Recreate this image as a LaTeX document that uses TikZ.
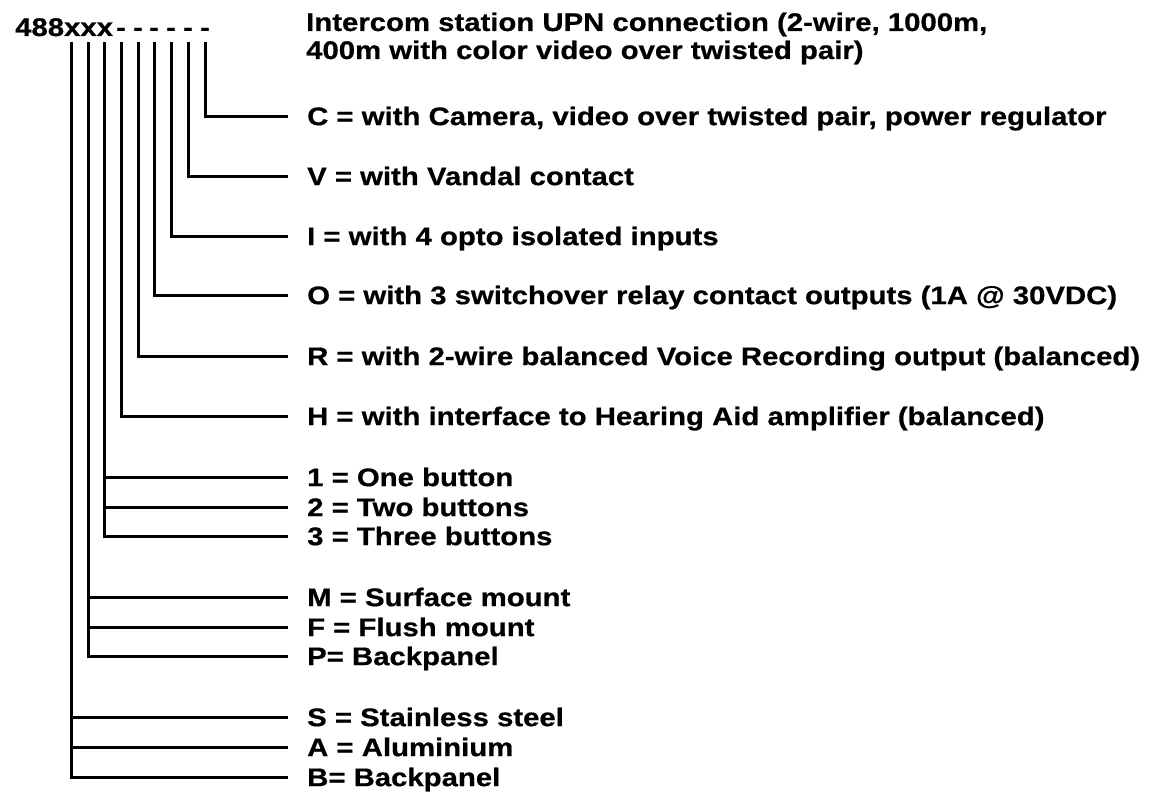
\documentclass[tikz,border=0pt]{standalone}
\usepackage{fontspec}
\newfontfamily\lblfamily{Liberation Sans Bold}[FakeStretch=1.15,FakeBold=0.6]
\newcommand{\lblfont}{\lblfamily\fontsize{25.5}{29}\selectfont}
\begin{document}
\begin{tikzpicture}[x=1pt,y=-1pt,
  txt/.style={font=\lblfont, inner sep=0pt, text height=18.3pt, text depth=0pt},
  lbl/.style={txt, anchor=west},
  wire/.style={line width=3pt, line join=miter},
]
\useasboundingbox[fill=white] (0,0) rectangle (1154,792);

% code header
\node[font=\lblfont, inner sep=0pt, anchor=base west] (code) at (15,36) {488xxx};
\foreach \n/\x in {dH/121,dR/138,dO/154,dI/171,dV/188,dC/205}
  \node[font=\lblfont, inner sep=0pt, anchor=base] (\n) at (\x,36) {-};

\node[font=\lblfont, inner sep=0pt, anchor=base west] (title1) at (306,31) {Intercom station UPN connection (2-wire, 1000m,};
\node[font=\lblfont, inner sep=0pt, anchor=base west] (title2) at (306,59) {400m with color video over twisted pair)};

% top points of the vertical wires
\coordinate (tS) at (71,42);
\coordinate (tM) at (88,42);
\coordinate (tN) at (104,42);
\coordinate (tH) at (121,42);
\coordinate (tR) at (138,42);
\coordinate (tO) at (154,42);
\coordinate (tI) at (171,42);
\coordinate (tV) at (188,42);
\coordinate (tC) at (205,42);

% labels
\node[lbl] (lC) at (307,116) {C = with Camera, video over twisted pair, power regulator};
\node[lbl] (lV) at (307,176) {V = with Vandal contact};
\node[lbl] (lI) at (307,236) {I = with 4 opto isolated inputs};
\node[lbl] (lO) at (307,295) {O = with 3 switchover relay contact outputs (1A @ 30VDC)};
\node[lbl] (lR) at (307,356) {R = with 2-wire balanced Voice Recording output (balanced)};
\node[lbl] (lH) at (307,416) {H = with interface to Hearing Aid amplifier (balanced)};
\node[lbl] (l1) at (307,477) {1 = One button};
\node[lbl] (l2) at (307,507) {2 = Two buttons};
\node[lbl] (l3) at (307,536) {3 = Three buttons};
\node[lbl] (lM) at (307,597) {M = Surface mount};
\node[lbl] (lF) at (307,627) {F = Flush mount};
\node[lbl] (lP) at (307,656) {P= Backpanel};
\node[lbl] (lSS) at (307,717) {S = Stainless steel};
\node[lbl] (lA) at (307,747) {A = Aluminium};
\node[lbl] (lB) at (307,777) {B= Backpanel};

% wires
\foreach \t/\l in {tC/lC,tV/lV,tI/lI,tO/lO,tR/lR,tH/lH,tN/l3,tM/lP,tS/lB}
  \draw[wire] (\t) |- ([xshift=-19pt]\l.west);
\foreach \t/\l in {tN/l1,tN/l2,tM/lM,tM/lF,tS/lSS,tS/lA}
  \draw[wire] (\t |- \l.west) -- ([xshift=-19pt]\l.west);
\end{tikzpicture}
\end{document}
